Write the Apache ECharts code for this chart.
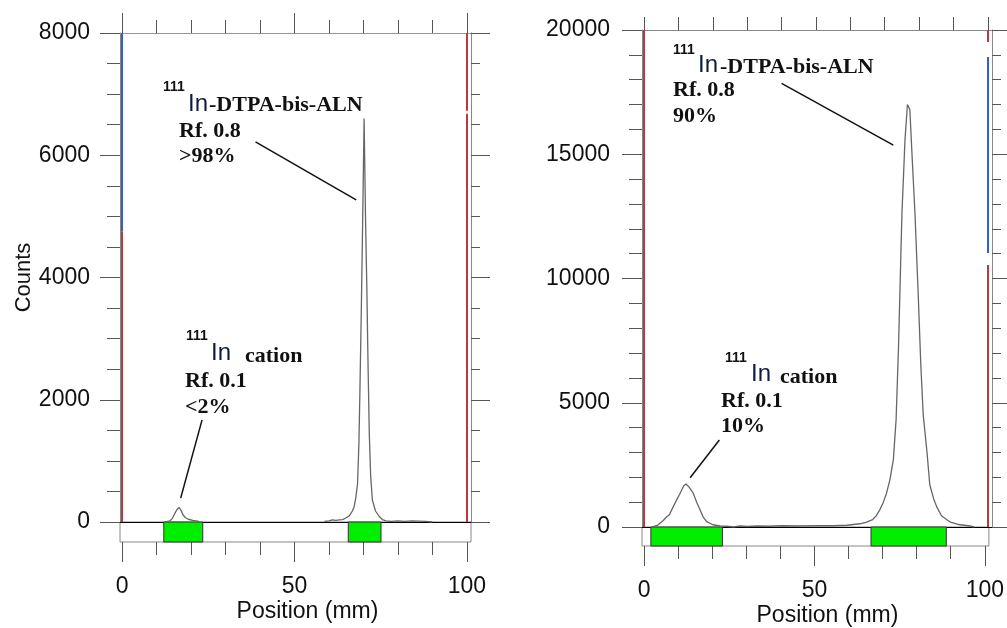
<!DOCTYPE html>
<html>
<head>
<meta charset="utf-8">
<title>Radio-TLC scans</title>
<script src="https://cdn.jsdelivr.net/npm/echarts@6/dist/echarts.min.js"></script>
<style>
  html, body { margin: 0; padding: 0; background: #fff; }
  #chart { width: 1007px; height: 628px; }
</style>
</head>
<body>
<div id="chart"></div>
<script>
// ---- data (position in mm, counts) ----
// left scan: null splits the cation trace from the main peak trace
var leftPos = [12.5, 13.9, 14.6, 15.3, 15.9, 16.5, 17.1, 17.7, 18.4, 19.2, 20.5, 22.3,
  40,
  58.7, 60.0, 61.0, 62.0, 63.0, 64.0, 65.0, 65.9, 66.8, 67.3, 67.8, 68.3, 68.7, 69.0, 69.4, 69.8,
  70.2, 70.6, 71.0, 71.3, 71.7, 72.1, 72.6, 73.5, 74.6, 75.5, 76.5, 78.0, 80.0, 82.0, 84.0, 86.0, 88.0, 90.0];
var leftCounts = [0, 20, 60, 140, 200, 240, 190, 115, 70, 45, 25, 10,
  null,
  10, 20, 35, 25, 35, 40, 70, 100, 180, 250, 400, 630, 1300, 2200, 3500, 5000,
  6600, 5000, 3800, 2700, 1450, 750, 360, 180, 90, 40, 20, 10, 20, 10, 20, 15, 10, 0];

// right scan
var rightPos = [2.2, 4.0, 5.5, 6.6, 7.4, 8.5, 9.5, 10.5, 11.5, 12.2, 13.0, 14.3, 15.3, 16.3, 17.2, 18.2,
  20.0, 22.1, 24.0, 26.0, 28.0, 30.0, 33.0, 36.0, 40.0, 45.0, 50.0, 55.0,
  59.0, 62.8, 64.5, 66.5, 67.5, 68.6, 69.6, 70.5, 71.5, 72.5, 73.3, 74.0, 75.0, 75.9, 76.6,
  77.3, 78.0, 78.8, 79.7, 80.5, 81.2, 82.3, 83.1, 84.2, 85.1, 86.5, 88.9, 91.5, 94.8, 96.0];
var rightCounts = [0, 80, 250, 415, 500, 820, 1100, 1360, 1650, 1730, 1620, 1360, 1000, 684, 400, 215,
  90, 40, 30, 0, 40, 20, 40, 30, 50, 40, 50, 50,
  70, 130, 190, 300, 450, 700, 1000, 1350, 1900, 2700, 4300, 7200, 12600, 15600, 17000,
  16800, 14800, 12600, 9500, 6500, 4500, 3000, 1700, 1150, 820, 450, 210, 100, 40, 0];

// regions of interest (green bands under the trace), mm
var leftRoiStart = [12.1, 65.6];
var leftRoiEnd = [23.4, 75.1];
var rightRoiStart = [2.0, 66.6];
var rightRoiEnd = [23.0, 88.7];

// origin / front markers: [position, from count, to count]
var leftRedMarks = [[0, 0, 4750], [100, 0, 6680], [100, 6730, 8000]];
var leftBlueMarks = [[0, 4750, 8000]];
var rightRedMarks = [[0, 0, 20000], [100, 0, 10540], [100, 19520, 20000]];
var rightBlueMarks = [[100, 11030, 18910]];

// annotation leader lines: [[x1, y1], [x2, y2]]
var leftLeaders = [[[38.7, 6220], [67.9, 5270]], [[23.2, 1670], [17.0, 390]]];
var rightLeaders = [[[40.0, 17855], [72.5, 15370]], [[21.9, 3500], [13.4, 1985]]];

// tick values
var xTicks = [0, 10, 20, 30, 40, 50, 60, 70, 80, 90, 100];
var xMajorTicks = [0, 50, 100];

var SANS = 'Liberation Sans, Arial, sans-serif';
var SERIF = 'Liberation Serif, Times New Roman, serif';

var myChart = echarts.init(document.getElementById('chart'));

var option = {
  animation: false,
  backgroundColor: '#fff',
  grid: [],
  xAxis: [],
  yAxis: [],
  series: [],
  graphic: []
};

function segLines(marks, color) {
  return marks.map(function (m) {
    return [{ coord: [m[0], m[1]], lineStyle: { color: color, width: 2, type: 'solid' } },
            { coord: [m[0], m[2]] }];
  });
}

function addPanel(p) {
  var gMain = option.grid.length;
  var gStrip = gMain + 1;
  option.grid.push({ left: p.left, top: p.top, width: p.width, height: p.height });
  option.grid.push({ left: p.left, top: p.top + p.height, width: p.width, height: 20,
    show: true, borderColor: '#888', borderWidth: 1, backgroundColor: '#fff' });

  var xBase = { type: 'value', min: -0.6, max: 101.2, splitLine: { show: false } };
  var x0 = option.xAxis.length;
  // zero line of the main plot, used by the trace
  option.xAxis.push(Object.assign({}, xBase, { gridIndex: gMain, position: 'bottom',
    axisLine: { onZero: false, lineStyle: { color: '#000' } },
    axisTick: { show: false }, axisLabel: { show: false } }));
  // top edge, small ticks
  option.xAxis.push(Object.assign({}, xBase, { gridIndex: gMain, position: 'top',
    axisLine: { onZero: false, lineStyle: { color: p.topColor } },
    axisTick: { customValues: xTicks, length: 13, lineStyle: { color: '#555' } },
    axisLabel: { show: false } }));
  // top edge, long ticks
  option.xAxis.push(Object.assign({}, xBase, { gridIndex: gMain, position: 'top',
    axisLine: { show: false, onZero: false },
    axisTick: { customValues: xMajorTicks, length: p.topMajor, lineStyle: { color: '#555' } },
    axisLabel: { show: false } }));
  // bottom of the strip: small ticks, labels and name
  option.xAxis.push(Object.assign({}, xBase, { gridIndex: gStrip, position: 'bottom',
    axisLine: { show: false, onZero: false },
    axisTick: { customValues: xTicks, length: 13, lineStyle: { color: '#555' } },
    axisLabel: { customValues: xMajorTicks, margin: 33, fontSize: 23, color: '#111', fontFamily: SANS },
    name: 'Position (mm)', nameLocation: 'middle', nameGap: 58,
    nameTextStyle: { fontSize: 23, color: '#111', fontFamily: SANS, padding: [0, 0, 0, 24] } }));
  // bottom of the strip: long ticks
  option.xAxis.push(Object.assign({}, xBase, { gridIndex: gStrip, position: 'bottom',
    axisLine: { show: false, onZero: false },
    axisTick: { customValues: xMajorTicks, length: 20, lineStyle: { color: '#555' } },
    axisLabel: { show: false } }));

  var yBase = { type: 'value', gridIndex: gMain, min: 0, max: p.ymax, splitLine: { show: false } };
  var y0 = option.yAxis.length;
  option.yAxis.push(Object.assign({}, yBase, { position: 'left', interval: p.yMinor,
    axisLine: { onZero: false, lineStyle: { color: '#888' } },
    axisTick: { length: 13, lineStyle: { color: '#555' } }, axisLabel: { show: false } }));
  option.yAxis.push(Object.assign({}, yBase, { position: 'left', interval: p.yMajor,
    axisLine: { show: false, onZero: false },
    axisTick: { length: 20, lineStyle: { color: '#555' } },
    axisLabel: { margin: p.labelMargin, fontSize: 23, color: '#111', fontFamily: SANS,
      formatter: function (v) { return String(v); } },
    name: p.yName, nameLocation: 'middle', nameGap: 82,
    nameTextStyle: { fontSize: 22, color: '#111', fontFamily: SANS } }));
  option.yAxis.push(Object.assign({}, yBase, { position: 'right', interval: p.yMinor,
    axisLine: { onZero: false, lineStyle: { color: '#888' } },
    axisTick: { length: 9, lineStyle: { color: '#555' } }, axisLabel: { show: false } }));
  option.yAxis.push(Object.assign({}, yBase, { position: 'right', interval: p.yMajor,
    axisLine: { show: false, onZero: false },
    axisTick: { length: 19, lineStyle: { color: '#555' } }, axisLabel: { show: false } }));
  // strip y scale
  option.yAxis.push({ type: 'value', gridIndex: gStrip, min: 0, max: 1, show: false });

  var data = p.pos.map(function (x, i) {
    return [x, p.counts[i] == null ? '-' : p.counts[i]];
  });
  var leaders = p.leaders.map(function (l) {
    return [{ coord: l[0], lineStyle: { color: '#111', width: 1.5, type: 'solid' } }, { coord: l[1] }];
  });

  option.series.push({
    type: 'line',
    xAxisIndex: x0,
    yAxisIndex: y0,
    data: data,
    showSymbol: false,
    connectNulls: false,
    lineStyle: { color: '#666', width: 1.3 },
    z: 5,
    markLine: {
      silent: true,
      symbol: ['none', 'none'],
      label: { show: false },
      data: segLines(p.red, '#b83a3a').concat(segLines(p.blue, '#2f5fd0')).concat(leaders)
    }
  });

  option.series.push({
    type: 'custom',
    xAxisIndex: x0 + 3,
    yAxisIndex: y0 + 4,
    data: p.roiStart.map(function (s, i) { return [s, p.roiEnd[i], 0, 1]; }),
    encode: { x: [0, 1], y: [2, 3] },
    renderItem: function (params, api) {
      var a = api.coord([api.value(0), 0]);
      var b = api.coord([api.value(1), 1]);
      return {
        type: 'rect',
        shape: { x: a[0], y: b[1], width: b[0] - a[0], height: a[1] - b[1] },
        style: { fill: '#00ee00', stroke: '#333', lineWidth: 1 }
      };
    }
  });
}

addPanel({ left: 120, top: 33, width: 351, height: 489, ymax: 8000, yMinor: 500, yMajor: 2000,
  labelMargin: 30, yName: 'Counts', topColor: '#8a96b4', topMajor: 20,
  pos: leftPos, counts: leftCounts, red: leftRedMarks, blue: leftBlueMarks,
  leaders: leftLeaders, roiStart: leftRoiStart, roiEnd: leftRoiEnd });

addPanel({ left: 642, top: 30, width: 350, height: 497, ymax: 20000, yMinor: 1000, yMajor: 5000,
  labelMargin: 32, yName: '', topColor: '#888', topMajor: 13,
  pos: rightPos, counts: rightCounts, red: rightRedMarks, blue: rightBlueMarks,
  leaders: rightLeaders, roiStart: rightRoiStart, roiEnd: rightRoiEnd });

// annotation text, y is the vertical centre of the text
function note(x, y, text, kind) {
  var size = kind === 'sup' ? 14 : kind === 'el' ? 24 : 22;
  var font = kind === 'sup' ? 'bold 14px ' + SANS
    : kind === 'el' ? '24px ' + SANS
    : 'bold 22px ' + SERIF;
  option.graphic.push({
    type: 'text', left: x, top: y - size / 2, z: 20,
    style: { text: text, font: font, fill: kind === 'el' ? '#0d1b3e' : '#111' }
  });
}

note(163, 87, '111', 'sup');
note(188, 104, 'In', 'el');
note(209, 105, '-DTPA-bis-ALN');
note(179, 131, 'Rf. 0.8');
note(179, 156, '>98%');
note(186, 336, '111', 'sup');
note(211, 353, 'In', 'el');
note(245, 356, 'cation');
note(185, 381, 'Rf. 0.1');
note(185, 407, '<2%');

note(673, 50, '111', 'sup');
note(698, 65, 'In', 'el');
note(720, 67, '-DTPA-bis-ALN');
note(673, 90, 'Rf. 0.8');
note(673, 116, '90%');
note(725, 358, '111', 'sup');
note(751, 374, 'In', 'el');
note(780, 377, 'cation');
note(721, 401, 'Rf. 0.1');
note(721, 426, '10%');

myChart.setOption(option);
</script>
</body>
</html>
